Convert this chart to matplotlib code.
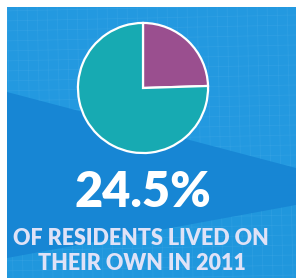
import matplotlib
matplotlib.use("Agg")
import matplotlib.pyplot as plt
from matplotlib.patches import Polygon, Rectangle

# data
labels = ["Lived alone", "Other"]
shares = [24.5, 75.5]
slice_colors = ["#9a4f8f", "#17aab2"]
headline = "24.5%"
caption = ["OF RESIDENTS LIVED ON", "THEIR OWN IN 2011"]

W, H = 296, 278
fig = plt.figure(figsize=(W / 100, H / 100), dpi=100)
fig.patch.set_facecolor("white")

# background panel in pixel coordinates
bg = fig.add_axes([0, 0, 1, 1])
bg.set_xlim(0, W)
bg.set_ylim(H, 0)
bg.axis("off")
bg.add_patch(Rectangle((7, 7), W - 7, H - 7, color="#1786d4", lw=0))
upper = Polygon([(7, 7), (W, 7), (W, 168), (7, 92)], closed=True, color="#2399e0", lw=0)
lower = Polygon([(7, 258), (W, 205), (W, H), (7, H)], closed=True, color="#2097dd", lw=0)
bg.add_patch(upper)
bg.add_patch(lower)
# faint tile texture
for patch in (upper, lower):
    for x in range(7, W, 10):
        ln = bg.plot([x, x + 6], [0, H], color="#4fb0ea", lw=0.6, alpha=0.25)[0]
        ln.set_clip_path(patch)
    for y in range(7, H, 10):
        ln = bg.plot([0, W], [y + 4, y - 2], color="#4fb0ea", lw=0.6, alpha=0.25)[0]
        ln.set_clip_path(patch)

# pie
cx, cy, r = 143, 88, 67
ax = fig.add_axes([(cx - r) / W, 1 - (cy + r) / H, 2 * r / W, 2 * r / H])
ax.pie(shares, colors=slice_colors, startangle=90, counterclock=False,
       wedgeprops=dict(edgecolor="white", linewidth=1.6))
ax.set_xlim(-1.03, 1.03)
ax.set_ylim(-1.03, 1.03)
ax.set_aspect("equal")
ax.axis("off")

fig.text(143 / W, 1 - 207 / H, headline, ha="center", va="baseline",
         fontsize=35, fontweight="heavy", family="Lato", color="white")
fig.text(141 / W, 1 - 245 / H, caption[0], ha="center", va="baseline",
         fontsize=15.5, fontweight="heavy", family="Lato", color="#dfe2f7")
fig.text(142 / W, 1 - 270 / H, caption[1], ha="center", va="baseline",
         fontsize=15.5, fontweight="heavy", family="Lato", color="#dfe2f7")

fig.savefig("out.png", dpi=100)
